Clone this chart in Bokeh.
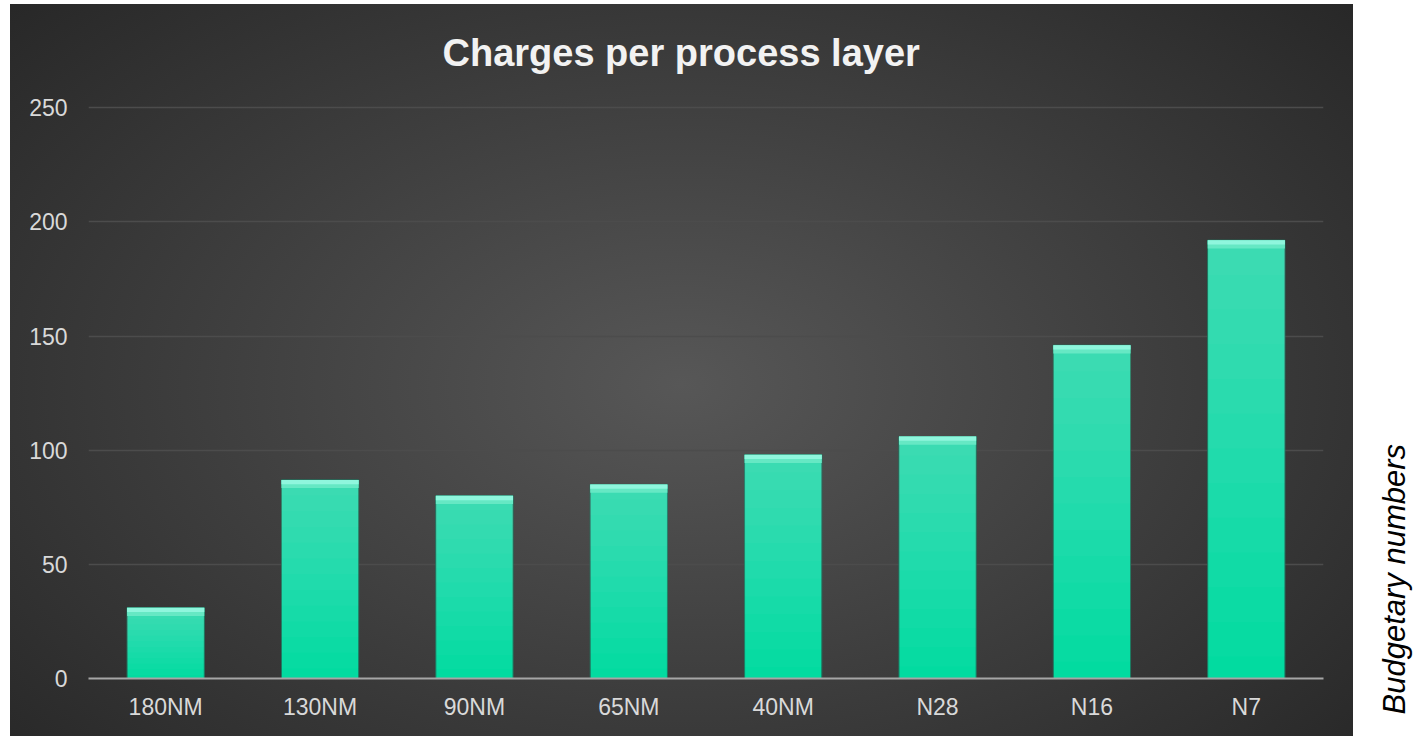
import numpy as np
from bokeh.plotting import figure
from bokeh.models import ColumnDataSource, Range1d, FixedTicker, Title
from bokeh.layouts import row
from bokeh.embed import file_html
from bokeh.resources import INLINE

categories = ["180NM", "130NM", "90NM", "65NM", "40NM", "N28", "N16", "N7"]
charges = [31, 87, 80, 85, 98, 106, 146, 192]
y_ticks = [0, 50, 100, 150, 200, 250]
title_text = "Charges per process layer"
side_note = "Budgetary numbers"

FONT = "Liberation Sans"
vals = np.array(charges, dtype=float)

p = figure(x_range=categories, y_range=Range1d(0, 251), width=1343, height=736,
           output_backend="svg", toolbar_location=None, title=None,
           min_border_left=78, min_border_right=30, min_border_top=105,
           min_border_bottom=58)
p.margin = (0, 0, 0, 10)
p.background_fill_color = None
p.border_fill_color = None
p.outline_line_color = None
p.styles = {"background": "radial-gradient(ellipse 70% 80% at 50% 52%, #575757 0%, #3c3c3c 55%, #262626 100%) 0 4px / 100% 732px no-repeat, #ffffff"}

# title, centred over the dark panel
p.add_layout(Title(text=title_text, align="left", offset=354, vertical_align="top",
                   standoff=60, text_font=FONT, text_font_size="38px",
                   text_font_style="bold", text_color="#f2f2f2"), "above")

# base bars
src = ColumnDataSource(dict(cat=categories, top=vals))
p.vbar(x="cat", top="top", width=0.5, source=src, fill_color="#02dba0",
       line_color="#1d7a62", line_width=1)

# per-bar gradient (lighter toward top)
n_layers = 12
for i in range(1, n_layers + 1):
    frac = i / n_layers
    s = ColumnDataSource(dict(cat=categories, top=vals, bottom=vals * (1 - frac * 0.95)))
    p.vbar(x="cat", top="top", bottom="bottom", width=0.5, source=s,
           fill_color="#ffffff", fill_alpha=0.022, line_color=None)

# top bevel
s1 = ColumnDataSource(dict(cat=categories, top=vals, bottom=vals - 3.6))
p.vbar(x="cat", top="top", bottom="bottom", width=0.5, source=s1,
       fill_color="#66e8c4", line_color=None)
s2 = ColumnDataSource(dict(cat=categories, top=vals, bottom=vals - 1.9))
p.vbar(x="cat", top="top", bottom="bottom", width=0.5, source=s2,
       fill_color="#8ff6dd", line_color=None)

# axes & grid
p.xaxis.axis_line_color = "#a6a6a6"
p.xaxis.axis_line_width = 2
p.xaxis.major_tick_line_color = None
p.xaxis.minor_tick_line_color = None
p.xaxis.major_label_text_font = FONT
p.xaxis.major_label_text_font_size = "23px"
p.xaxis.major_label_text_color = "#d9d9d9"
p.xaxis.major_label_standoff = 9

p.yaxis.ticker = FixedTicker(ticks=y_ticks)
p.yaxis.axis_line_color = None
p.yaxis.major_tick_line_color = None
p.yaxis.minor_tick_line_color = None
p.yaxis.major_tick_out = 0
p.yaxis.major_label_text_font = FONT
p.yaxis.major_label_text_font_size = "23px"
p.yaxis.major_label_text_color = "#d9d9d9"
p.yaxis.major_label_standoff = 21

p.xgrid.grid_line_color = None
p.ygrid.grid_line_color = "#4c4c4c"
p.ygrid.grid_line_width = 1.5

# side note panel (reads bottom-to-top)
p2 = figure(width=75, height=736, x_range=Range1d(0, 1), y_range=Range1d(0, 1),
            output_backend="svg", toolbar_location=None, title=None,
            x_axis_location=None, y_axis_location=None,
            min_border_left=60, min_border_right=0, min_border_top=0,
            min_border_bottom=0)
p2.grid.visible = False
p2.outline_line_color = None
p2.background_fill_color = "#ffffff"
p2.border_fill_color = "#ffffff"
p2.add_layout(Title(text=side_note, align="left", offset=-36, vertical_align="bottom",
                    standoff=4, text_font=FONT, text_font_size="31px",
                    text_font_style="italic", text_color="#000000"), "left")

layout = row(p, p2)
open("out.html", "w").write(file_html(layout, INLINE))
